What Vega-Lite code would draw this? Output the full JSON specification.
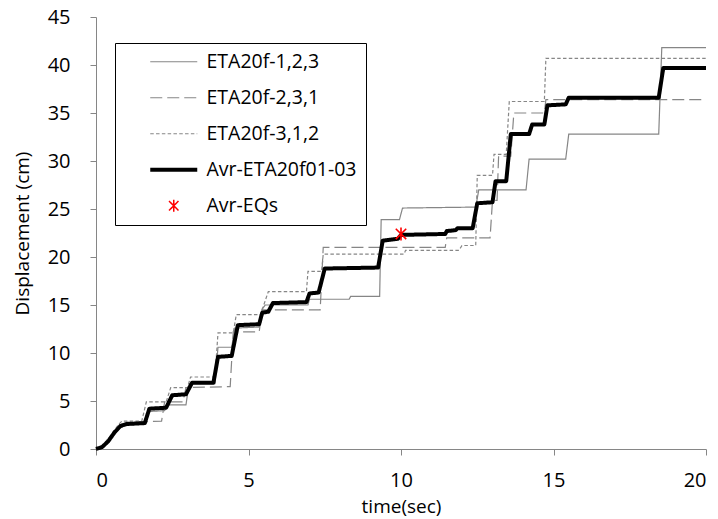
{
  "$schema": "https://vega.github.io/schema/vega-lite/v6.json",
  "width": 610,
  "height": 432,
  "autosize": {"type": "none"},
  "padding": {"left": 96, "top": 17, "right": 12, "bottom": 70},
  "background": "white",
  "config": {
    "view": {"stroke": null},
    "font": "Open Sans",
    "axis": {
      "grid": false,
      "domainColor": "#868686",
      "tickColor": "#868686",
      "tickSize": 6,
      "labelFont": "Open Sans",
      "labelFontSize": 20,
      "labelColor": "#000",
      "titleFont": "Open Sans",
      "titleFontSize": 19,
      "titleFontWeight": "normal",
      "titleColor": "#000"
    },
    "legend": {
      "orient": "none",
      "legendX": 19,
      "legendY": 26,
      "strokeColor": "#000",
      "fillColor": "#fff",
      "padding": 9,
      "symbolOffset": 40,
      "labelOffset": 23,
      "labelFont": "Open Sans",
      "labelFontSize": 19.5,
      "labelColor": "#000",
      "symbolSize": 361,
      "symbolType": "stroke",
      "rowPadding": 15
    }
  },
  "datasets": {
    "runs": [
      {"s": "ETA20f-1,2,3", "t": 0, "d": 0}, {"s": "ETA20f-1,2,3", "t": 0.2, "d": 0.2}, {"s": "ETA20f-1,2,3", "t": 0.5, "d": 1.2}, {"s": "ETA20f-1,2,3", "t": 0.8, "d": 2.2}, {"s": "ETA20f-1,2,3", "t": 1.0, "d": 2.5}, {"s": "ETA20f-1,2,3", "t": 1.6, "d": 2.6}, {"s": "ETA20f-1,2,3", "t": 1.7, "d": 3.9}, {"s": "ETA20f-1,2,3", "t": 2.25, "d": 4.0}, {"s": "ETA20f-1,2,3", "t": 2.35, "d": 4.6}, {"s": "ETA20f-1,2,3", "t": 2.95, "d": 4.6}, {"s": "ETA20f-1,2,3", "t": 3.05, "d": 6.8}, {"s": "ETA20f-1,2,3", "t": 3.9, "d": 6.8}, {"s": "ETA20f-1,2,3", "t": 4.0, "d": 10.6}, {"s": "ETA20f-1,2,3", "t": 4.45, "d": 10.6}, {"s": "ETA20f-1,2,3", "t": 4.55, "d": 12.6}, {"s": "ETA20f-1,2,3", "t": 5.35, "d": 12.7}, {"s": "ETA20f-1,2,3", "t": 5.45, "d": 14.6}, {"s": "ETA20f-1,2,3", "t": 5.55, "d": 15.0}, {"s": "ETA20f-1,2,3", "t": 6.95, "d": 15.0}, {"s": "ETA20f-1,2,3", "t": 7.0, "d": 15.6}, {"s": "ETA20f-1,2,3", "t": 8.3, "d": 15.6}, {"s": "ETA20f-1,2,3", "t": 8.35, "d": 15.9}, {"s": "ETA20f-1,2,3", "t": 9.3, "d": 15.9}, {"s": "ETA20f-1,2,3", "t": 9.35, "d": 23.9}, {"s": "ETA20f-1,2,3", "t": 9.95, "d": 23.9}, {"s": "ETA20f-1,2,3", "t": 10.05, "d": 25.1}, {"s": "ETA20f-1,2,3", "t": 12.45, "d": 25.2}, {"s": "ETA20f-1,2,3", "t": 12.55, "d": 27.0}, {"s": "ETA20f-1,2,3", "t": 14.1, "d": 27.0}, {"s": "ETA20f-1,2,3", "t": 14.2, "d": 30.2}, {"s": "ETA20f-1,2,3", "t": 15.4, "d": 30.2}, {"s": "ETA20f-1,2,3", "t": 15.5, "d": 32.8}, {"s": "ETA20f-1,2,3", "t": 18.45, "d": 32.8}, {"s": "ETA20f-1,2,3", "t": 18.55, "d": 41.8}, {"s": "ETA20f-1,2,3", "t": 20, "d": 41.8},

      {"s": "ETA20f-2,3,1", "t": 0, "d": 0}, {"s": "ETA20f-2,3,1", "t": 0.2, "d": 0.2}, {"s": "ETA20f-2,3,1", "t": 0.5, "d": 1.3}, {"s": "ETA20f-2,3,1", "t": 0.8, "d": 2.4}, {"s": "ETA20f-2,3,1", "t": 1.0, "d": 2.8}, {"s": "ETA20f-2,3,1", "t": 2.15, "d": 2.9}, {"s": "ETA20f-2,3,1", "t": 2.25, "d": 4.9}, {"s": "ETA20f-2,3,1", "t": 2.85, "d": 4.9}, {"s": "ETA20f-2,3,1", "t": 2.95, "d": 6.4}, {"s": "ETA20f-2,3,1", "t": 4.4, "d": 6.5}, {"s": "ETA20f-2,3,1", "t": 4.5, "d": 12.2}, {"s": "ETA20f-2,3,1", "t": 5.35, "d": 12.2}, {"s": "ETA20f-2,3,1", "t": 5.45, "d": 14.5}, {"s": "ETA20f-2,3,1", "t": 7.35, "d": 14.5}, {"s": "ETA20f-2,3,1", "t": 7.45, "d": 21.0}, {"s": "ETA20f-2,3,1", "t": 11.45, "d": 21.0}, {"s": "ETA20f-2,3,1", "t": 11.5, "d": 22.0}, {"s": "ETA20f-2,3,1", "t": 12.92, "d": 22.0}, {"s": "ETA20f-2,3,1", "t": 13.0, "d": 25.9}, {"s": "ETA20f-2,3,1", "t": 13.15, "d": 25.9}, {"s": "ETA20f-2,3,1", "t": 13.2, "d": 30.5}, {"s": "ETA20f-2,3,1", "t": 13.6, "d": 30.5}, {"s": "ETA20f-2,3,1", "t": 13.7, "d": 35.0}, {"s": "ETA20f-2,3,1", "t": 14.7, "d": 35.0}, {"s": "ETA20f-2,3,1", "t": 14.75, "d": 36.4}, {"s": "ETA20f-2,3,1", "t": 20, "d": 36.4},

      {"s": "ETA20f-3,1,2", "t": 0, "d": 0}, {"s": "ETA20f-3,1,2", "t": 0.2, "d": 0.3}, {"s": "ETA20f-3,1,2", "t": 0.5, "d": 1.5}, {"s": "ETA20f-3,1,2", "t": 0.75, "d": 2.6}, {"s": "ETA20f-3,1,2", "t": 0.85, "d": 2.9}, {"s": "ETA20f-3,1,2", "t": 1.5, "d": 2.9}, {"s": "ETA20f-3,1,2", "t": 1.65, "d": 4.9}, {"s": "ETA20f-3,1,2", "t": 2.3, "d": 4.9}, {"s": "ETA20f-3,1,2", "t": 2.45, "d": 6.4}, {"s": "ETA20f-3,1,2", "t": 3.0, "d": 6.4}, {"s": "ETA20f-3,1,2", "t": 3.1, "d": 7.5}, {"s": "ETA20f-3,1,2", "t": 3.9, "d": 7.5}, {"s": "ETA20f-3,1,2", "t": 4.0, "d": 12.1}, {"s": "ETA20f-3,1,2", "t": 4.5, "d": 12.1}, {"s": "ETA20f-3,1,2", "t": 4.6, "d": 14.0}, {"s": "ETA20f-3,1,2", "t": 5.4, "d": 14.0}, {"s": "ETA20f-3,1,2", "t": 5.5, "d": 15.0}, {"s": "ETA20f-3,1,2", "t": 5.65, "d": 16.4}, {"s": "ETA20f-3,1,2", "t": 6.9, "d": 16.4}, {"s": "ETA20f-3,1,2", "t": 6.95, "d": 18.5}, {"s": "ETA20f-3,1,2", "t": 7.4, "d": 18.5}, {"s": "ETA20f-3,1,2", "t": 7.45, "d": 20.3}, {"s": "ETA20f-3,1,2", "t": 10.1, "d": 20.3}, {"s": "ETA20f-3,1,2", "t": 10.15, "d": 20.7}, {"s": "ETA20f-3,1,2", "t": 11.9, "d": 20.7}, {"s": "ETA20f-3,1,2", "t": 12.0, "d": 21.2}, {"s": "ETA20f-3,1,2", "t": 12.45, "d": 21.2}, {"s": "ETA20f-3,1,2", "t": 12.5, "d": 28.5}, {"s": "ETA20f-3,1,2", "t": 13.0, "d": 28.5}, {"s": "ETA20f-3,1,2", "t": 13.05, "d": 30.7}, {"s": "ETA20f-3,1,2", "t": 13.45, "d": 30.7}, {"s": "ETA20f-3,1,2", "t": 13.55, "d": 36.2}, {"s": "ETA20f-3,1,2", "t": 14.7, "d": 36.2}, {"s": "ETA20f-3,1,2", "t": 14.75, "d": 40.7}, {"s": "ETA20f-3,1,2", "t": 20, "d": 40.7},

      {"s": "Avr-ETA20f01-03", "t": 0, "d": 0}, {"s": "Avr-ETA20f01-03", "t": 0.2, "d": 0.2}, {"s": "Avr-ETA20f01-03", "t": 0.4, "d": 0.8}, {"s": "Avr-ETA20f01-03", "t": 0.6, "d": 1.7}, {"s": "Avr-ETA20f01-03", "t": 0.8, "d": 2.4}, {"s": "Avr-ETA20f01-03", "t": 1.0, "d": 2.6}, {"s": "Avr-ETA20f01-03", "t": 1.6, "d": 2.7}, {"s": "Avr-ETA20f01-03", "t": 1.75, "d": 4.2}, {"s": "Avr-ETA20f01-03", "t": 2.3, "d": 4.3}, {"s": "Avr-ETA20f01-03", "t": 2.5, "d": 5.6}, {"s": "Avr-ETA20f01-03", "t": 2.95, "d": 5.7}, {"s": "Avr-ETA20f01-03", "t": 3.15, "d": 6.9}, {"s": "Avr-ETA20f01-03", "t": 3.85, "d": 6.9}, {"s": "Avr-ETA20f01-03", "t": 4.0, "d": 9.6}, {"s": "Avr-ETA20f01-03", "t": 4.45, "d": 9.7}, {"s": "Avr-ETA20f01-03", "t": 4.65, "d": 12.9}, {"s": "Avr-ETA20f01-03", "t": 5.35, "d": 13.0}, {"s": "Avr-ETA20f01-03", "t": 5.45, "d": 14.2}, {"s": "Avr-ETA20f01-03", "t": 5.65, "d": 14.3}, {"s": "Avr-ETA20f01-03", "t": 5.8, "d": 15.2}, {"s": "Avr-ETA20f01-03", "t": 6.9, "d": 15.3}, {"s": "Avr-ETA20f01-03", "t": 7.0, "d": 16.2}, {"s": "Avr-ETA20f01-03", "t": 7.3, "d": 16.3}, {"s": "Avr-ETA20f01-03", "t": 7.5, "d": 18.8}, {"s": "Avr-ETA20f01-03", "t": 9.25, "d": 18.9}, {"s": "Avr-ETA20f01-03", "t": 9.4, "d": 21.7}, {"s": "Avr-ETA20f01-03", "t": 9.9, "d": 21.9}, {"s": "Avr-ETA20f01-03", "t": 10.0, "d": 22.3}, {"s": "Avr-ETA20f01-03", "t": 11.45, "d": 22.4}, {"s": "Avr-ETA20f01-03", "t": 11.5, "d": 22.7}, {"s": "Avr-ETA20f01-03", "t": 11.8, "d": 22.8}, {"s": "Avr-ETA20f01-03", "t": 11.85, "d": 23.0}, {"s": "Avr-ETA20f01-03", "t": 12.35, "d": 23.0}, {"s": "Avr-ETA20f01-03", "t": 12.5, "d": 25.6}, {"s": "Avr-ETA20f01-03", "t": 13.0, "d": 25.7}, {"s": "Avr-ETA20f01-03", "t": 13.1, "d": 27.9}, {"s": "Avr-ETA20f01-03", "t": 13.45, "d": 27.9}, {"s": "Avr-ETA20f01-03", "t": 13.6, "d": 32.8}, {"s": "Avr-ETA20f01-03", "t": 14.2, "d": 32.8}, {"s": "Avr-ETA20f01-03", "t": 14.3, "d": 33.8}, {"s": "Avr-ETA20f01-03", "t": 14.7, "d": 33.8}, {"s": "Avr-ETA20f01-03", "t": 14.8, "d": 35.8}, {"s": "Avr-ETA20f01-03", "t": 15.4, "d": 35.9}, {"s": "Avr-ETA20f01-03", "t": 15.5, "d": 36.6}, {"s": "Avr-ETA20f01-03", "t": 18.45, "d": 36.6}, {"s": "Avr-ETA20f01-03", "t": 18.6, "d": 39.7}, {"s": "Avr-ETA20f01-03", "t": 20, "d": 39.7}
    ],
    "eqs": [
      {"s": "Avr-EQs", "t": 10.0, "d": 22.4}
    ]
  },
  "encoding": {
    "x": {
      "field": "t", "type": "quantitative",
      "scale": {"domain": [0, 20], "nice": false},
      "axis": {"title": "time(sec)", "values": [0, 5, 10, 15, 20], "labelPadding": 15, "titlePadding": 7}
    },
    "y": {
      "field": "d", "type": "quantitative",
      "scale": {"domain": [0, 45], "nice": false},
      "axis": {"title": "Displacement (cm)", "values": [0, 5, 10, 15, 20, 25, 30, 35, 40, 45], "labelPadding": 20, "titlePadding": 15}
    },
    "color": {
      "field": "s", "type": "nominal",
      "scale": {
        "domain": ["ETA20f-1,2,3", "ETA20f-2,3,1", "ETA20f-3,1,2", "Avr-ETA20f01-03", "Avr-EQs"],
        "range": ["#868686", "#868686", "#868686", "#000000", "#ff0000"]
      },
      "legend": {
        "title": null,
        "labelExpr": "datum.label + '      '",
        "encode": {
          "symbols": {
            "update": {
              "shape": {"signal": "datum.value === 'Avr-EQs' ? 'M0,-1L0,1M-0.8,-0.8L0.8,0.8M-0.8,0.8L0.8,-0.8' : 'stroke'"},
              "size": {"signal": "datum.value === 'Avr-EQs' ? 140 : 2209"},
              "strokeWidth": {"signal": "datum.value === 'Avr-ETA20f01-03' ? 4 : (datum.value === 'Avr-EQs' ? 1.5 : 1.2)"}
            }
          }
        }
      }
    }
  },
  "layer": [
    {
      "data": {"name": "runs"},
      "transform": [{"filter": "datum.s !== 'Avr-ETA20f01-03'"}],
      "mark": {"type": "line", "strokeWidth": 1.2, "strokeJoin": "miter"},
      "encoding": {
        "strokeDash": {
          "field": "s", "type": "nominal",
          "scale": {
            "domain": ["ETA20f-1,2,3", "ETA20f-2,3,1", "ETA20f-3,1,2", "Avr-ETA20f01-03", "Avr-EQs"],
            "range": [[1, 0], [12, 5], [3.5, 2.3], [1, 0], [1, 0]]
          },
          "legend": {"title": null}
        }
      }
    },
    {
      "data": {"name": "runs"},
      "transform": [{"filter": "datum.s === 'Avr-ETA20f01-03'"}],
      "mark": {"type": "line", "strokeWidth": 4, "strokeJoin": "round"},
      "encoding": {
        "strokeDash": {"field": "s", "type": "nominal", "legend": {"title": null}}
      }
    },
    {
      "data": {"name": "eqs"},
      "mark": {
        "type": "point",
        "shape": "M0,-1L0,1M-0.8,-0.8L0.8,0.8M-0.8,0.8L0.8,-0.8",
        "filled": false,
        "size": 170,
        "strokeWidth": 1.6,
        "opacity": 1
      },
      "encoding": {}
    }
  ]
}
